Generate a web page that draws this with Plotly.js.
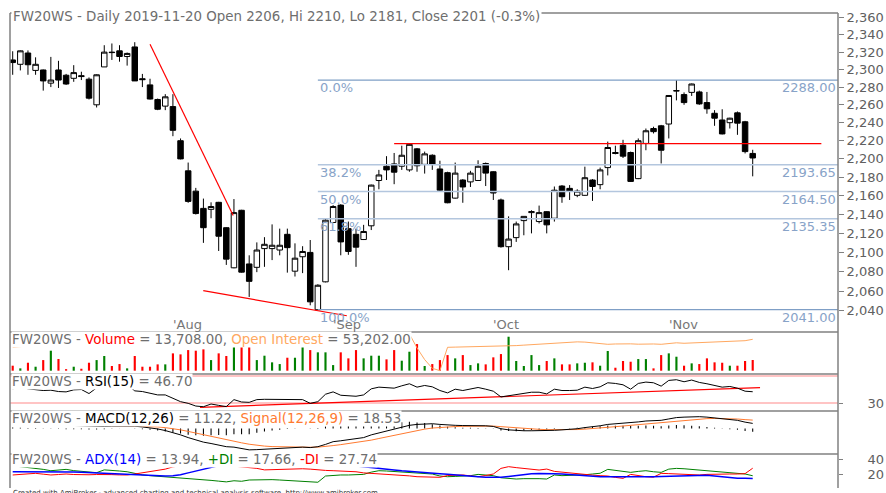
<!DOCTYPE html>
<html><head><meta charset="utf-8">
<script src="https://cdn.plot.ly/plotly-3.0.1.min.js"></script>
<style>html,body{margin:0;padding:0;background:#fff;}#chart{width:886px;height:493px;}</style>
</head><body><div id="chart"></div>
<script>
const dates = [
 "2019-07-03","2019-07-04","2019-07-05","2019-07-08","2019-07-09","2019-07-10","2019-07-11","2019-07-12","2019-07-15","2019-07-16",
 "2019-07-17","2019-07-18","2019-07-19","2019-07-22","2019-07-23","2019-07-24","2019-07-25","2019-07-26","2019-07-29","2019-07-30",
 "2019-07-31","2019-08-01","2019-08-02","2019-08-05","2019-08-06","2019-08-07","2019-08-08","2019-08-09","2019-08-12","2019-08-13",
 "2019-08-14","2019-08-16","2019-08-19","2019-08-20","2019-08-21","2019-08-22","2019-08-23","2019-08-26","2019-08-27","2019-08-28",
 "2019-08-29","2019-08-30","2019-09-02","2019-09-03","2019-09-04","2019-09-05","2019-09-06","2019-09-09","2019-09-10","2019-09-11",
 "2019-09-12","2019-09-13","2019-09-16","2019-09-17","2019-09-18","2019-09-19","2019-09-20","2019-09-23","2019-09-24","2019-09-25",
 "2019-09-26","2019-09-27","2019-09-30","2019-10-01","2019-10-02","2019-10-03","2019-10-04","2019-10-07","2019-10-08","2019-10-09",
 "2019-10-10","2019-10-11","2019-10-14","2019-10-15","2019-10-16","2019-10-17","2019-10-18","2019-10-21","2019-10-22","2019-10-23",
 "2019-10-24","2019-10-25","2019-10-28","2019-10-29","2019-10-30","2019-10-31","2019-11-04","2019-11-05","2019-11-06","2019-11-07",
 "2019-11-08","2019-11-12","2019-11-13","2019-11-14","2019-11-15","2019-11-18","2019-11-19","2019-11-20"];
const openP = [
 2311,2306,2319,2299,2299.5,2284.5,2299.5,2293.5,2290,2293,
 2289,2260,2303,2320,2321.5,2315,2326,2289.5,2282.5,2266,
 2258.5,2258,2220,2187,2165,2146.5,2145.5,2153,2126,2084,
 2144.5,2088,2084.5,2104,2104,2102.5,2119,2080.5,2095.5,2100,
 2041,2069.5,2131.5,2150,2125,2119,2113.5,2128,2176.5,2192,
 2194.5,2192,2188,2211,2194,2204,2189,2185,2157.5,2177,
 2175,2176.5,2195,2186,2155.5,2106,2115.5,2133.5,2142,2132.5,
 2143,2136,2170.5,2168,2160.5,2160.5,2177,2172,2190.5,2207,
 2215,2207,2178.5,2217,2233.5,2236.5,2238.5,2275.5,2271.5,2274,
 2274.5,2262.5,2250.5,2243,2240,2251,2241,2206];
const highP = [
 2321,2322,2322,2314,2300,2314.5,2310,2295,2305,2297.5,
 2291,2294.5,2328,2330,2328,2319.5,2331.5,2295,2289.5,2267,
 2272,2272,2222.5,2196,2168.5,2157,2153,2153.5,2126.5,2156.5,
 2145,2097,2110.5,2116,2129.5,2125,2125,2109.5,2106.5,2113,
 2067,2136,2150,2151,2132.5,2125,2129,2172,2188,2203,
 2206.5,2214.5,2216.5,2212,2208,2205,2198,2186,2196,2178,
 2187,2198.5,2196,2186.5,2157,2138,2132.5,2138,2144.5,2149.5,
 2143.5,2170,2171.5,2171.5,2167,2191.5,2178,2190.5,2219,2214.5,
 2221,2208,2222.5,2233.5,2235.5,2237.5,2271,2288,2274,2284,
 2276,2274.5,2254,2255,2245.5,2252.5,2242,2210];
const lowP = [
 2294,2299,2294,2294,2276,2280,2279,2282.5,2286,2288,
 2266,2257,2303,2311,2309,2304.5,2287,2280,2266,2254,
 2254,2225,2199.5,2152.5,2140,2110,2136,2101.5,2087,2083.5,
 2079,2054,2079.5,2085,2092,2097,2079,2075,2078.5,2045.5,
 2041,2069,2131,2097,2097.5,2085,2113,2123.5,2167,2177,
 2172.5,2188,2186,2186,2184,2188,2164.5,2152,2157,2152.5,
 2169.5,2176,2170.5,2155.5,2105,2081.5,2111,2118,2120,2130.5,
 2120,2132.5,2152.5,2155.5,2158.5,2160,2154.5,2167,2182,2205,
 2201,2175,2178,2209.5,2228,2195,2222.5,2265,2260,2270,
 2260,2250,2236.5,2227,2233.5,2226.5,2206,2181];
const closeP = [
 2308,2321.5,2305.5,2306,2287,2288,2288,2283.5,2296.5,2292,
 2267.5,2294,2320,2319.5,2315,2318.5,2287,2288.5,2266.5,2255,
 2269,2231.5,2200,2154,2141,2126,2148.5,2117,2093,2142,
 2079.5,2070,2102.5,2108.5,2107.5,2107.5,2105,2094,2101,2049,
 2066,2134,2148.5,2111,2101,2105.5,2122,2171.5,2182.5,2188,
 2185.5,2204,2216,2192.5,2205.5,2194,2166,2152.5,2184.5,2169.5,
 2184.5,2192,2184.5,2163,2106,2114,2130,2138,2143,2142,
 2129,2166,2159,2165,2165,2179.5,2170,2188,2212.5,2206,
 2203,2175.5,2220,2231,2230,2209.5,2270.5,2276,2262.5,2283.5,
 2261,2255.5,2245,2227.5,2245,2239.5,2208,2201];
const volume = [
 6400,3000,10200,5100,13600,25600,15000,2000,5100,2500,
 10200,13600,18800,6000,8500,3000,18800,5100,5100,8100,
 8100,22200,20900,26400,25600,27300,13600,22200,18800,32800,
 32800,30700,13600,19200,10700,8500,16600,16600,31600,26400,
 23500,23500,7200,23500,15800,26400,15800,19200,19200,14500,
 26400,12800,24300,34100,6000,8500,13600,20000,15800,20000,
 7200,9400,8100,17100,21300,43500,12400,6000,20000,7200,
 12400,15800,8100,8100,9400,10200,10700,6400,25200,3800,
 12400,11500,14900,14900,3000,20000,22200,17900,6400,9400,
 8500,15800,10700,10200,6400,6400,12400,13708];
const openInterest = [
 49770,50100,50400,50760,51100,51300,51500,51600,51800,52000,
 52100,52300,52500,52600,52800,53000,53100,53300,53400,53500,
 53700,53800,53900,54000,54100,54200,54300,54400,54500,54600,
 54700,54800,54900,55000,55050,55100,55150,55200,55250,55300,
 55350,55400,55450,55500,55550,55600,55650,55700,55750,55800,
 55850,55850,55500,49500,44500,40800,39740,49770,49850,49900,
 49950,50000,50050,50150,50250,50330,50500,50700,50900,51100,
 51300,51500,51700,52170,52100,52000,51700,51300,51060,51200,
 51300,51250,51100,51300,51200,51060,51400,51700,51500,51600,
 51800,52000,52100,52170,52170,52300,52600,53202];
const rsi = [
 51,54,51,50,48.5,49,47,46.5,49.5,50,
 44,52.5,57,58,56.5,57.5,48,47,44,42,
 42,37,32,29.5,25.5,24.5,28.5,26.5,24.6,35,
 31.5,31,35,35.5,35.5,35.5,35,34.5,35,29.5,
 32,43,46.5,41.5,40.5,40,42,51,53.5,52.5,
 52,55.5,58.5,53.5,56,54,48.5,45,50.5,48.5,
 50.5,53,50.5,47.5,39,40.5,43,44.5,46,46,
 43.5,50.5,48.5,48.5,49,53.5,51.5,54,60,59,
 57,50.5,59,61,60,55,63.5,64.5,61.5,64,
 60.5,58.5,56.5,53.5,54.5,52,47.5,46.7];
const macd = [
 10,10,9.8,9.5,9,8.2,7.5,6.5,6,5.5,
 4.5,4,4.5,5,5.5,5.8,5,3.5,2,-1,
 -4.5,-9,-14,-20,-25,-30,-33,-36,-40,-41,
 -44,-47,-46.5,-45.5,-44,-43,-42,-41.5,-41,-42,
 -40,-35,-29,-27,-25,-23,-20,-14,-10,-5,
 -1.5,2.5,7,9,10.5,10.5,9,7.5,7,6.5,
 6.5,6.5,6,4.5,-0.5,-3,-4.5,-5,-5,-5,
 -5.5,-4,-3,-2,-0.5,2,3.5,6,9,10,
 11.5,12.5,14.5,16.5,17.5,18,21,24,25,26,
 26,25,23.5,21.5,20,18,14,11.22];
const signal = [
 8,8.3,8.5,8.6,8.6,8.5,8.3,8,7.6,7.2,
 6.7,6.2,5.9,5.7,5.7,5.7,5.6,5.2,4.6,3.5,
 1.9,-0.3,-3,-6.4,-10.1,-14.1,-17.9,-21.5,-25.2,-28.4,
 -31.5,-34.6,-37,-38.7,-39.8,-40.4,-40.8,-41,-41,-41.2,
 -41,-39.8,-37.6,-35.5,-33.4,-31.3,-29,-25.6,-22,-18.3,
 -15,-11.5,-7.8,-4.4,-1.4,1,2.6,3.6,4.3,4.8,
 5.1,5.4,5.5,5.3,4.1,2.7,1.3,0,-1,-1.8,
 -2.5,-2.8,-2.8,-2.7,-2.3,-1.4,-0.4,0.9,2.5,4,
 5.5,6.9,8.4,10,11.5,12.8,14.5,16.4,18.1,19.7,
 20.9,21.7,22.1,22,21.6,20.9,19.5,18.53];
const adx = [
 23,23.1,23.2,23.2,23.1,23,23,23.1,22.8,22.3,
 21.8,21.1,20.5,20,19.5,19,18.5,18,17.3,17.2,
 17.3,17.8,19,21.5,24,27,29.5,32,34.5,36,
 37.5,38.5,39,39.2,39,38.5,38,37.5,37,36.5,
 36,35,34,33,32,31,30.3,29.5,28.3,27,
 25.5,24.2,23.6,23.1,22.4,21.3,20.5,19.6,18.6,17.8,
 17,16.4,15.8,15.2,15.6,16.8,18.2,19.3,20.2,20.6,
 20.9,20.5,20,19.2,18.4,17.6,16.8,16.4,16.4,16.4,
 16.2,15.9,15.6,16,16.4,16.8,17.2,17.5,17.7,17.9,
 18.1,18.2,17.5,16.4,15.5,14.5,14.2,13.94];
const plusDI = [
 31,30,29,27.5,26.2,24.4,25.5,26.2,24.5,23.5,
 22.5,21.8,25.5,25,24,23,20.5,18.8,17.8,17,
 16.4,15.5,15,14.5,14,12.5,11.5,10.5,9.5,11,
 10.3,12,12.5,12.9,12.5,12,11.5,11,10.2,9.2,
 9,17.3,18.5,18.7,18.7,18.7,19.5,22.5,24.4,24,
 23.5,23,22.5,21.8,21,20,17.3,16.4,16.8,17.3,
 17.8,19.5,18.5,17.8,15,14,13.3,13.8,14.2,13.8,
 13.3,18.7,17.8,18,18.2,19,20,21,26.2,25,
 24.4,22.2,23.5,24.4,23,22.2,26.5,27.5,27,26.2,
 25.5,24.4,23.5,22.5,21.8,21,20,17.66];
const minusDI = [
 18.7,19.5,20.2,20.9,19.8,18.7,19.3,20,19.3,18.8,
 19,19.3,19.5,19.2,18.8,18.7,20,21.8,23,24.4,
 26.5,29.5,31,35,38,39,37,38,37,30.5,
 29.8,28.5,27.5,25.5,25.8,26.2,27,27.5,27,26.5,
 25.3,24.8,24.4,24,23.5,23,21.5,21,20.3,20,
 19.3,18.7,17.5,16.4,16.2,15.6,15.6,18,18.7,18.7,
 17.5,16.4,18,20,27.5,29.8,28.5,27.5,26,25.3,
 26.6,23.5,22.5,21.3,20.3,19.3,18.5,17.8,17.3,15.5,
 14.2,19.5,17.5,16.4,15.8,20.9,20.5,20,19.5,19,
 18.7,19.5,20,20,20,20,20.5,27.74];
const fibPct = [0, 38.2, 50, 61.8, 100];
const fibLevel = [2288.00, 2193.65, 2164.50, 2135.35, 2041.00];
const fibStartBar = 40;
const downTrendX = [18.0, 28.9], downTrendY = [2329, 2139];
const supportX = [24.98, 43.8], supportY = [2060.4, 2034.9];
const resistX = [50.0, 106.0], resistY = [2216.8, 2216.8];
const rsiTrendX = [24.55, 97.96], rsiTrendY = [23.6, 52.7];
const priceTicks = [2040,2060,2080,2100,2120,2140,2160,2180,2200,2220,2240,2260,2280,2300,2320,2340,2360];
const rsiLevels = [30, 70];
const monthNames = ["Jan","Feb","Mar","Apr","May","Jun","Jul","Aug","Sep","Oct","Nov","Dec"];

// ---- build ----
const idx = dates.map((d,i)=>i);
const n = dates.length;
const X_RANGE = [-0.354, 108.18];
const TOP = 13, BOT = 488;
const py = p => (BOT - p) / (BOT - TOP);
const GRAY = '#6e6e6e';
const FONT = 'DejaVu Sans';
const TSIZE = 13.4;
const fmt2 = v => v.toLocaleString('en-US',{minimumFractionDigits:2, maximumFractionDigits:2});

const traces = [];
fibLevel.forEach((lv,k)=>{
  const strong = (fibPct[k]===0 || fibPct[k]===100);
  traces.push({type:'scatter', mode:'lines', x:[fibStartBar, X_RANGE[1]], y:[lv,lv], xaxis:'x', yaxis:'y',
    line:{color: strong ? '#7f9fc6' : '#b3c6de', width: strong ? 1.3 : 1.5}, hoverinfo:'skip'});
});
[[downTrendX,downTrendY],[supportX,supportY],[resistX,resistY]].forEach(([tx,ty])=>{
  traces.push({type:'scatter', mode:'lines', x:tx, y:ty, xaxis:'x', yaxis:'y', line:{color:'#ff0000', width:1.2}, hoverinfo:'skip'});
});
traces.push({type:'candlestick', x:idx, open:openP, high:highP, low:lowP, close:closeP, xaxis:'x', yaxis:'y',
  whiskerwidth:0,
  increasing:{line:{color:'#000000', width:1}, fillcolor:'#ffffff'},
  decreasing:{line:{color:'#000000', width:1}, fillcolor:'#000000'},
  hoverinfo:'skip'});
traces.push({type:'bar', x:idx, y:volume, xaxis:'x', yaxis:'y2', width:0.28,
  marker:{color: idx.map(i=> closeP[i] >= openP[i] ? '#008000' : '#ff0000'), line:{width:0}}, hoverinfo:'skip'});
traces.push({type:'scatter', mode:'lines', x:idx, y:openInterest, xaxis:'x', yaxis:'y6', line:{color:'#ffa860', width:1}, hoverinfo:'skip'});
traces.push({type:'scatter', mode:'lines', x:rsiTrendX, y:rsiTrendY, xaxis:'x', yaxis:'y3', line:{color:'#ff0000', width:1.2}, hoverinfo:'skip'});
traces.push({type:'scatter', mode:'lines', x:idx, y:rsi, xaxis:'x', yaxis:'y3', line:{color:'#000000', width:1}, hoverinfo:'skip'});
const hist = macd.map((m,i)=> m - signal[i]);
traces.push({type:'bar', x:idx, y:hist, xaxis:'x', yaxis:'y4', width:0.14, marker:{color:'#000000', line:{width:0}}, hoverinfo:'skip'});
traces.push({type:'scatter', mode:'lines', x:idx, y:signal, xaxis:'x', yaxis:'y4', line:{color:'#ff7a30', width:1}, hoverinfo:'skip'});
traces.push({type:'scatter', mode:'lines', x:idx, y:macd, xaxis:'x', yaxis:'y4', line:{color:'#000000', width:1}, hoverinfo:'skip'});
traces.push({type:'scatter', mode:'lines', x:idx, y:plusDI, xaxis:'x', yaxis:'y5', line:{color:'#008000', width:1}, hoverinfo:'skip'});
traces.push({type:'scatter', mode:'lines', x:idx, y:minusDI, xaxis:'x', yaxis:'y5', line:{color:'#ff0000', width:1}, hoverinfo:'skip'});
traces.push({type:'scatter', mode:'lines', x:idx, y:adx, xaxis:'x', yaxis:'y5', line:{color:'#0000ff', width:1.5}, hoverinfo:'skip'});

const ann = [];
const last = n-1;
const chg = (closeP[last]-closeP[last-1])/closeP[last-1]*100;
ann.push({xref:'paper', yref:'paper', x:0, y:py(7), xanchor:'left', yanchor:'top', xshift:1, showarrow:false, bgcolor:'#ffffff', borderpad:1,
  text:`FW20WS - Daily ${dates[last]} Open ${openP[last]}, Hi ${highP[last]}, Lo ${lowP[last]}, Close ${closeP[last]} (${chg.toFixed(1)}%)`,
  font:{family:FONT, size:TSIZE, color:GRAY}});
const sp = (c,t)=>`<span style="color:${c}">${t}</span>`;
const subTitles = [
  {top:331, text: sp(GRAY,'FW20WS - ')+sp('#ff0000','Volume')+sp(GRAY,` = ${fmt2(volume[last])}, `)+sp('#ffa860','Open Interest')+sp(GRAY,` = ${fmt2(openInterest[last])}`)},
  {top:373, text: sp(GRAY,'FW20WS - ')+sp('#000000','RSI(15)')+sp(GRAY,` = ${rsi[last].toFixed(2)}`)},
  {top:410, text: sp(GRAY,'FW20WS - ')+sp('#000000','MACD(12,26)')+sp(GRAY,` = ${macd[last].toFixed(2)}, `)+sp('#ff7a30','Signal(12,26,9)')+sp(GRAY,` = ${signal[last].toFixed(2)}`)},
  {top:451, text: sp(GRAY,'FW20WS - ')+sp('#0000ff','ADX(14)')+sp(GRAY,` = ${adx[last].toFixed(2)}, `)+sp('#008000','+DI')+sp(GRAY,` = ${plusDI[last].toFixed(2)}, `)+sp('#ff0000','-DI')+sp(GRAY,` = ${minusDI[last].toFixed(2)}`)}
];
subTitles.forEach(s=> ann.push({xref:'paper', yref:'paper', x:0, y:py(s.top), xanchor:'left', yanchor:'top', xshift:1, showarrow:false,
  bgcolor:'#ffffff', borderpad:0, text:s.text, font:{family:FONT, size:TSIZE, color:GRAY}}));
fibLevel.forEach((lv,k)=>{
  ann.push({xref:'x', yref:'y', x:fibStartBar, y:Math.log10(lv), xanchor:'left', yanchor:'top', yshift:2, showarrow:false,
    text: fibPct[k].toFixed(1)+'%', font:{family:FONT, size:13, color:'#88a3c8'}});
  ann.push({xref:'paper', yref:'y', x:1, y:Math.log10(lv), xanchor:'right', yanchor:'top', yshift:2, xshift:0, showarrow:false,
    text: lv.toFixed(2), font:{family:FONT, size:13, color:'#88a3c8'}});
});
dates.forEach((d,i)=>{
  if(i>0 && d.slice(5,7)!==dates[i-1].slice(5,7)){
    ann.push({xref:'x', yref:'paper', x:i, y:py(334), xanchor:'left', yanchor:'bottom', xshift:-2, showarrow:false,
      text:"'"+monthNames[parseInt(d.slice(5,7))-1], font:{family:FONT, size:13, color:'#777777'}});
  }
});
ann.push({xref:'paper', yref:'paper', x:0, y:py(487), xanchor:'left', yanchor:'top', xshift:1, showarrow:false,
  text:'Created with AmiBroker - advanced charting and technical analysis software. http://www.amibroker.com', font:{family:FONT, size:7, color:'#333333'}});

const FR = '#808080';
const shapes = [
  {type:'line', xref:'paper', yref:'paper', x0:0, x1:1, y0:1, y1:1, line:{color:FR, width:1.5}},
  {type:'line', xref:'paper', yref:'paper', x0:0, x1:0, y0:0, y1:1, line:{color:FR, width:1.5}},
  {type:'line', xref:'paper', yref:'paper', x0:1, x1:1, y0:0, y1:1, line:{color:FR, width:1.5}}
];
[332, 374, 411, 454].forEach(p=> shapes.push({type:'line', xref:'paper', yref:'paper', x0:0, x1:1, y0:py(p), y1:py(p), line:{color:FR, width:1.5}}));
rsiLevels.forEach(v=> shapes.push({type:'line', xref:'paper', yref:'y3', x0:0, x1:1, y0:v, y1:v, layer:'below', line:{color:'#ffb0b0', width:1.5}}));

const tickFont = {family:FONT, size:13, color:'#606060'};
const layout = {
  width:886, height:493,
  margin:{l:10, r:48, t:TOP, b:493-BOT, pad:0},
  paper_bgcolor:'#ffffff', plot_bgcolor:'#ffffff',
  showlegend:false, barmode:'overlay', boxgap:0.28, boxgroupgap:0,
  hovermode:false,
  xaxis:{range:X_RANGE, showticklabels:false, showgrid:false, zeroline:false, showline:false, rangeslider:{visible:false}, fixedrange:true},
  yaxis:{domain:[py(332),1], type:'log', range:[Math.log10(2018.5), Math.log10(2365.6)], side:'right',
    tickvals:priceTicks, ticktext:priceTicks.map(v=>v.toLocaleString('en-US')), ticks:'outside', ticklen:5, tickcolor:FR,
    tickfont:tickFont, showgrid:false, zeroline:false, showline:false},
  yaxis2:{domain:[py(374),py(332)], range:[-4224,49536], showticklabels:false, showgrid:false, zeroline:false},
  yaxis6:{overlaying:'y2', range:[38330,56330], showticklabels:false, showgrid:false, zeroline:false},
  yaxis3:{domain:[py(411),py(374)], range:[18.15,73], side:'right', tickvals:[30], ticktext:['30'], ticks:'outside', ticklen:4, tickcolor:FR,
    tickfont:tickFont, ticklabelstandoff:22, showgrid:false, zeroline:false},
  yaxis4:{domain:[py(454),py(411)], range:[-56.1,38.5], showticklabels:false, showgrid:false, zeroline:false},
  yaxis5:{domain:[0,py(454)], range:[1.33,46.7], side:'right', tickvals:[20,40], ticktext:['20','40'], ticks:'outside', ticklen:4, tickcolor:FR,
    tickfont:tickFont, ticklabelstandoff:22, showgrid:false, zeroline:false},
  annotations:ann, shapes:shapes
};
Plotly.newPlot('chart', traces, layout, {staticPlot:true, displayModeBar:false});
</script>
</body></html>
